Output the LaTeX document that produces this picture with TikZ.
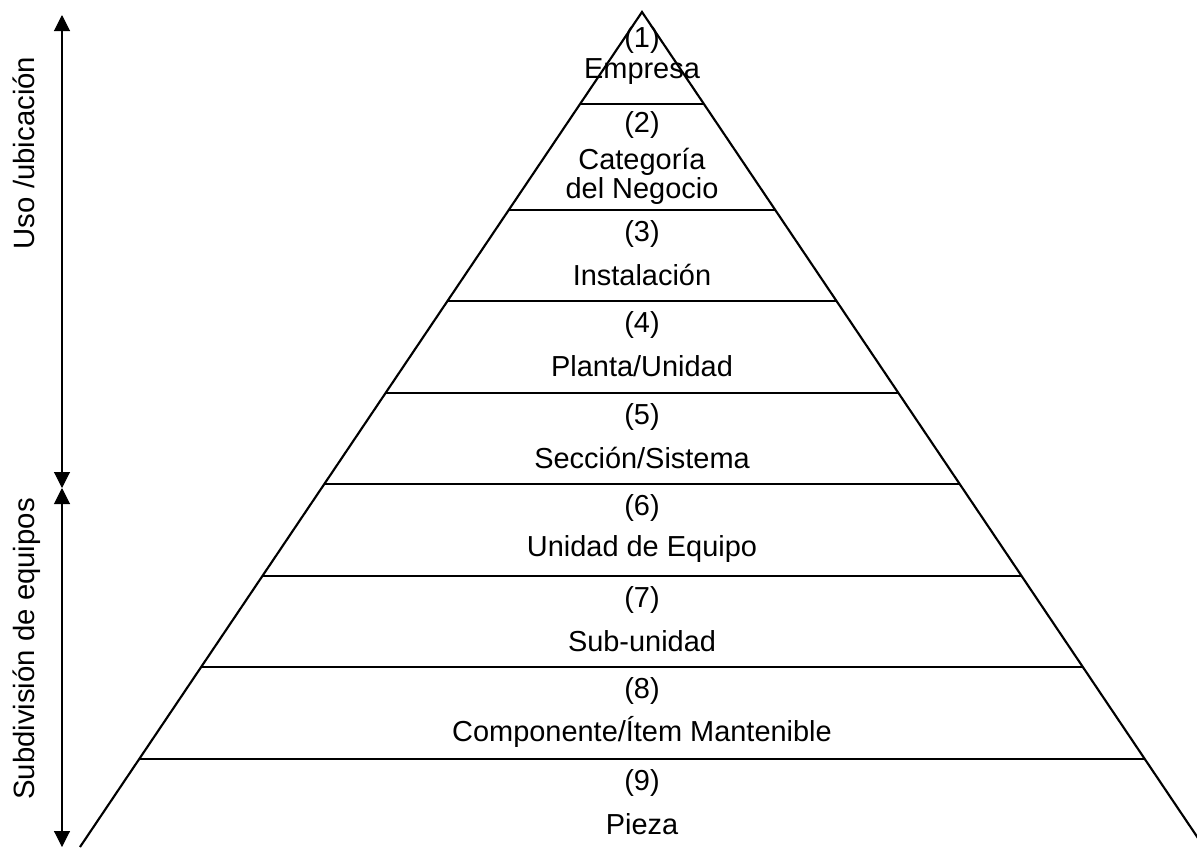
\documentclass[tikz,border=0pt]{standalone}
\usepackage{fontspec}
\setmainfont{Liberation Sans}
\usepackage{tikz}
\usetikzlibrary{arrows.meta,calc}

\begin{document}
\begin{tikzpicture}[x=0.75pt,y=-0.75pt,
  edge/.style={draw=black,line width=1.6pt},
  lvl/.style={inner sep=0pt,align=center,font=\fontsize{21.7}{21.7}\selectfont},
  side/.style={inner sep=0pt,rotate=90,anchor=base,font=\fontsize{22}{22}\selectfont},
  arr/.style={{Triangle[length=12pt,width=12pt]}-{Triangle[length=12pt,width=12pt]},line width=0.8pt,draw=black}
]
\useasboundingbox (0,0) rectangle (1197,847);

% pyramid outline
\coordinate (top) at (642,12);
\coordinate (bl) at (80,847);
\coordinate (br) at (1204,847);
\draw[edge] (bl) -- (top) -- (br);
\foreach \y in {104,210,301,393,484,576,667,759} {
  \pgfmathsetmacro\t{(\y-12)/835}
  \draw[edge] ($(top)!\t!(bl)$) -- ($(top)!\t!(br)$);
}

% level labels
\node[lvl] (n1) at (642,40) {(1)};
\node[lvl] (l1) at (642,72) {Empresa};
\node[lvl] (n2) at (642,125) {(2)};
\node[lvl] (l2) at (642,176) {Categoría\\del Negocio};
\foreach \y/\name [count=\i from 3] in {210/{Instalación},301/{Planta/Unidad},
    393/{Sección/Sistema},484/{Unidad de Equipo},576/{Sub-unidad},
    667/{Componente/Ítem Mantenible},759/{Pieza}} {
  \node[lvl] (n\i) at (642,\y+24) {(\i)};
  \node[lvl] (l\i) at (642,\y+65) {\name};
}

% side arrows
\coordinate (up) at (62,15);
\coordinate (mid) at (62,488);
\coordinate (down) at (62,847);
\draw[arr] (up) -- (mid);
\draw[arr] (mid) -- (down);
\node[side] (uso) at (34,153) {Uso /ubicación};
\node[side] (sub) at (34,649) {Subdivisión de equipos};
\end{tikzpicture}
\end{document}
